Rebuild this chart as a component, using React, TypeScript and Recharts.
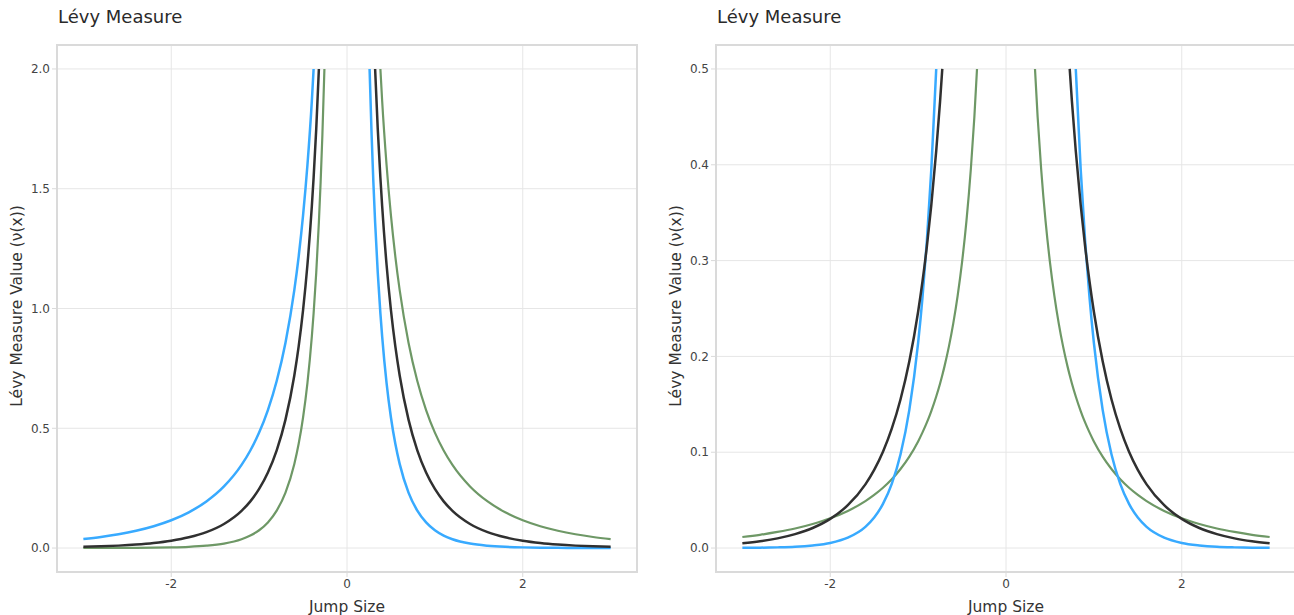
import React from "react";
import { LineChart, Line, XAxis, YAxis, CartesianGrid, ReferenceArea } from "recharts";

// Jump sizes sampled for the asymmetric panel (left); 0 is the pole, left empty
const jumpSizesSkew = [
  -3, -2.8, -2.6, -2.4, -2.2, -2, -1.8, -1.6, -1.4, -1.2, -1.1, -1, -0.9, -0.8, -0.7, -0.6, -0.55, -0.5,
  -0.45, -0.4, -0.38, -0.35, -0.32, -0.3, -0.28, -0.257, 0,
  0.257, 0.28, 0.3, 0.32, 0.35, 0.38, 0.4, 0.45, 0.5, 0.55, 0.6, 0.7, 0.8, 0.9, 1, 1.1, 1.2, 1.4, 1.6,
  1.8, 2, 2.2, 2.4, 2.6, 2.8, 3,
];

// heavier negative tail
const skewBlue = [
  0.0373, 0.0462, 0.0576, 0.0723, 0.0912, 0.1161, 0.1493, 0.1944, 0.2571, 0.347, 0.4073, 0.4819, 0.576,
  0.6971, 0.857, 1.0755, 1.2169, 1.3884, 1.6, 1.867, 2, null, null, null, null, null, null,
  2, 1.725, 1.528, 1.36, 1.15, 0.9797, 0.8838, 0.6898, 0.5451, 0.4351, 0.3502, 0.2314, 0.1561, 0.107,
  0.0743, 0.0521, 0.0368, 0.0187, 0.0098, 0.0052, 0.0028, 0.0015, 0.0008, 0.0004, 0.0002, 0.0001,
];

// symmetric baseline
const skewBlack = [
  0.005, 0.0071, 0.0101, 0.0145, 0.0209, 0.0304, 0.0447, 0.0665, 0.1006, 0.1553, 0.1949, 0.2466, 0.3152,
  0.4079, 0.5362, 0.7195, 0.8418, 0.9932, 1.1836, 1.428, 1.546, 1.75, 2, null, null, null, null,
  null, null, null, 2, 1.75, 1.546, 1.428, 1.1836, 0.9932, 0.8418, 0.7195, 0.5362, 0.4079, 0.3152,
  0.2466, 0.1949, 0.1553, 0.1006, 0.0665, 0.0447, 0.0304, 0.0209, 0.0145, 0.0101, 0.0071, 0.005,
];

// heavier positive tail
const skewGreen = [
  0.0001, 0.0002, 0.0004, 0.0008, 0.0015, 0.0028, 0.0052, 0.0098, 0.0187, 0.0368, 0.0521, 0.0743, 0.107,
  0.1561, 0.2314, 0.3502, 0.4351, 0.5451, 0.6898, 0.8838, 0.9797, 1.15, 1.36, 1.528, 1.725, 2, null,
  null, null, null, null, null, 2, 1.867, 1.6, 1.3884, 1.2169, 1.0755, 0.857, 0.6971, 0.576, 0.4819,
  0.4073, 0.347, 0.2571, 0.1944, 0.1493, 0.1161, 0.0912, 0.0723, 0.0576, 0.0462, 0.0373,
];

// Jump sizes sampled for the symmetric panel (right)
const jumpSizesSym = [
  -3, -2.8, -2.6, -2.4, -2.2, -2, -1.8, -1.6, -1.5, -1.4, -1.3, -1.2, -1.1, -1, -0.95, -0.9, -0.85, -0.794,
  -0.75, -0.725, -0.7, -0.65, -0.6, -0.55, -0.5, -0.45, -0.4, -0.36, -0.33, 0,
  0.33, 0.36, 0.4, 0.45, 0.5, 0.55, 0.6, 0.65, 0.7, 0.725, 0.75, 0.794, 0.85, 0.9, 0.95, 1, 1.1, 1.2, 1.3,
  1.4, 1.5, 1.6, 1.8, 2, 2.2, 2.4, 2.6, 2.8, 3,
];

const symBlue = [
  0.0002, 0.0004, 0.0007, 0.0013, 0.0027, 0.0053, 0.0108, 0.0221, 0.0318, 0.0461, 0.067, 0.0979, 0.1442,
  0.2141, 0.2618, 0.3211, 0.395, 0.5, null, null, null, null, null, null, null, null, null, null, null,
  null,
  null, null, null, null, null, null, null, null, null, null, null, 0.5, 0.395, 0.3211, 0.2618, 0.2141,
  0.1442, 0.0979, 0.067, 0.0461, 0.0318, 0.0221, 0.0108, 0.0053, 0.0027, 0.0013, 0.0007, 0.0004, 0.0002,
];

const symBlack = [
  0.005, 0.0071, 0.0101, 0.0145, 0.0209, 0.0304, 0.0447, 0.0665, 0.0816, 0.1006, 0.1246, 0.1553, 0.1949,
  0.2466, 0.2784, 0.3152, 0.3579, 0.4144, 0.4665, 0.5, null, null, null, null, null, null, null, null, null,
  null,
  null, null, null, null, null, null, null, null, null, 0.5, 0.4665, 0.4144, 0.3579, 0.3152, 0.2784,
  0.2466, 0.1949, 0.1553, 0.1246, 0.1006, 0.0816, 0.0665, 0.0447, 0.0304, 0.0209, 0.0145, 0.0101, 0.0071,
  0.005,
];

const symGreen = [
  0.0115, 0.0138, 0.0168, 0.0204, 0.0251, 0.031, 0.0387, 0.049, 0.0554, 0.0629, 0.0718, 0.0825, 0.0954,
  0.1113, 0.1207, 0.1311, 0.143, 0.1582, 0.1718, 0.1804, 0.1896, 0.2102, 0.2345, 0.2635, 0.2984, 0.3414,
  0.3956, 0.4499, 0.5,
  null,
  0.5, 0.4499, 0.3956, 0.3414, 0.2984, 0.2635, 0.2345, 0.2102, 0.1896, 0.1804, 0.1718, 0.1582, 0.143,
  0.1311, 0.1207, 0.1113, 0.0954, 0.0825, 0.0718, 0.0629, 0.0554, 0.049, 0.0387, 0.031, 0.0251, 0.0204,
  0.0168, 0.0138, 0.0115,
];

const xTicks = [-2, 0, 2];
const skewYTicks = [0, 0.5, 1, 1.5, 2];
const symYTicks = [0, 0.1, 0.2, 0.3, 0.4, 0.5];

const FONT = '"DejaVu Sans", Verdana, sans-serif';
const GRID = "#e6e6e6";
const FRAME = "#dadada";
const TEXT = "#444";

type PanelProps = {
  left: number;
  xs: number[];
  blue: (number | null)[];
  black: (number | null)[];
  green: (number | null)[];
  yDomain: [number, number];
  yTicks: number[];
};

function Panel({ left, xs, blue, black, green, yDomain, yTicks }: PanelProps) {
  const rows = xs.map((x, i) => ({ x, blue: blue[i], black: black[i], green: green[i] }));
  const tick = { fill: TEXT, fontSize: 12, fontFamily: FONT };
  return (
    <div style={{ position: "absolute", left, top: 0, width: 660, height: 615 }}>
      <div
        style={{
          position: "absolute",
          left: 58,
          top: 6,
          fontSize: 18,
          lineHeight: "22px",
          color: "#2a2a2a",
          fontFamily: FONT,
          whiteSpace: "nowrap",
        }}
      >
        Lévy Measure
      </div>
      <div
        style={{
          position: "absolute",
          left: 17,
          top: 306,
          transform: "translate(-50%, -50%) rotate(-90deg)",
          fontSize: 15.5,
          color: "#333",
          fontFamily: FONT,
          whiteSpace: "nowrap",
        }}
      >
        Lévy Measure Value (ν(x))
      </div>
      <div
        style={{
          position: "absolute",
          left: 347,
          top: 607,
          transform: "translate(-50%, -50%)",
          fontSize: 15.5,
          color: "#333",
          fontFamily: FONT,
          whiteSpace: "nowrap",
        }}
      >
        Jump Size
      </div>
      <LineChart
        width={660}
        height={615}
        data={rows}
        margin={{ top: 45, right: 23, bottom: 0, left: 0 }}
        style={{ position: "absolute", left: 0, top: 0 }}
      >
        <CartesianGrid stroke={GRID} strokeWidth={1} />
        <XAxis
          dataKey="x"
          type="number"
          domain={[-3.3, 3.3]}
          ticks={xTicks}
          height={43}
          tick={tick}
          tickLine={{ stroke: FRAME }}
          tickSize={5}
          axisLine={false}
          allowDataOverflow
        />
        <YAxis
          type="number"
          domain={yDomain}
          ticks={yTicks}
          width={57}
          tick={tick}
          tickLine={{ stroke: FRAME }}
          tickSize={5}
          tickFormatter={(v: number) => v.toFixed(1)}
          axisLine={false}
          allowDataOverflow
        />
        <ReferenceArea
          x1={-3.3}
          x2={3.3}
          y1={yDomain[0]}
          y2={yDomain[1]}
          fill="none"
          stroke={FRAME}
          strokeWidth={2}
          ifOverflow="visible"
        />
        <Line
          dataKey="green"
          type="monotone"
          stroke="#6e9866"
          strokeWidth={2.2}
          dot={false}
          activeDot={false}
          isAnimationActive={false}
        />
        <Line
          dataKey="blue"
          type="monotone"
          stroke="#38aaff"
          strokeWidth={2.5}
          dot={false}
          activeDot={false}
          isAnimationActive={false}
        />
        <Line
          dataKey="black"
          type="monotone"
          stroke="#303030"
          strokeWidth={2.5}
          dot={false}
          activeDot={false}
          isAnimationActive={false}
        />
      </LineChart>
    </div>
  );
}

export default function App() {
  return (
    <div
      style={{
        position: "absolute",
        left: 0,
        top: 0,
        width: 1294,
        height: 615,
        overflow: "hidden",
        background: "#fff",
      }}
    >
      <Panel
        left={0}
        xs={jumpSizesSkew}
        blue={skewBlue}
        black={skewBlack}
        green={skewGreen}
        yDomain={[-0.1, 2.1]}
        yTicks={skewYTicks}
      />
      <Panel
        left={659}
        xs={jumpSizesSym}
        blue={symBlue}
        black={symBlack}
        green={symGreen}
        yDomain={[-0.025, 0.525]}
        yTicks={symYTicks}
      />
    </div>
  );
}
